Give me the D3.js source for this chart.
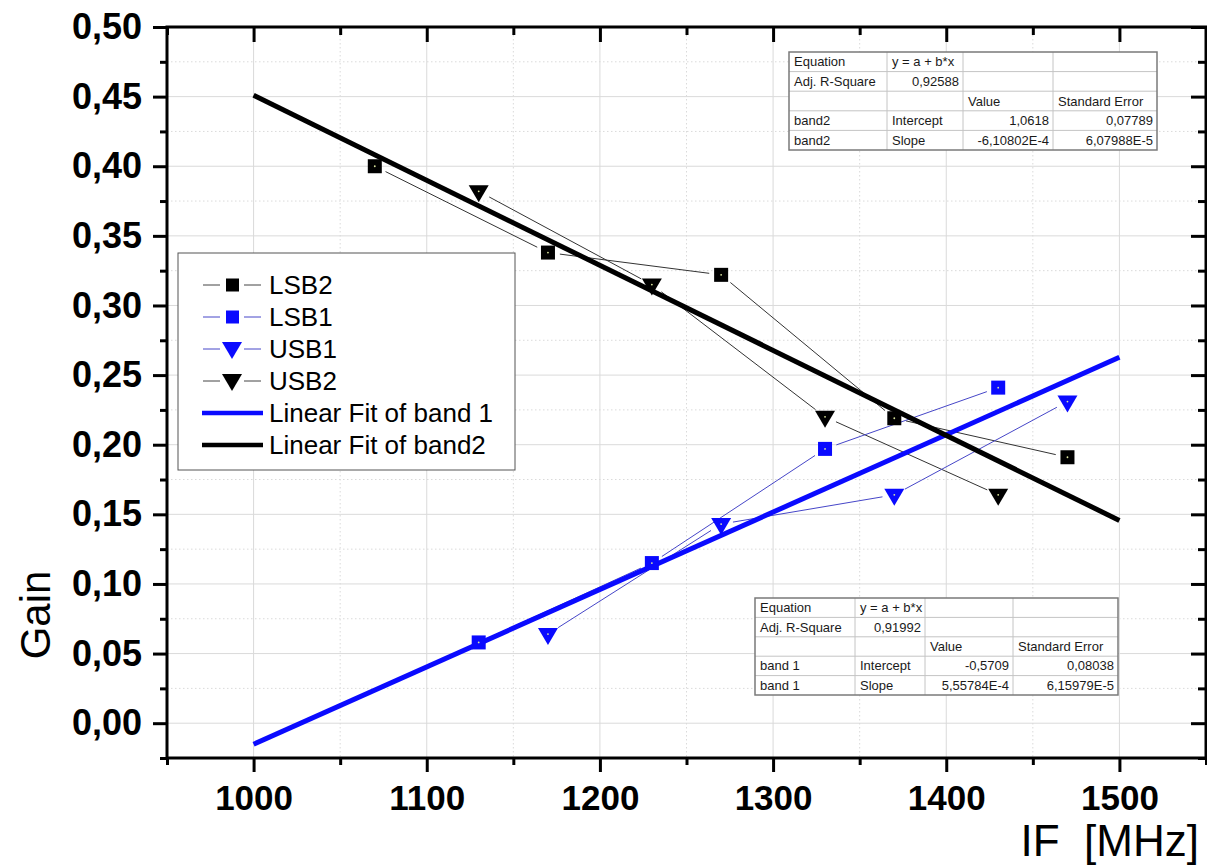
<!doctype html>
<html>
<head>
<meta charset="utf-8">
<script src="https://d3js.org/d3.v7.min.js"></script>
<style>
    body { margin: 0; background: #fff; }
    svg { display: block; font-family: "Liberation Sans", Arial, sans-serif; }
    .grid-major line { stroke: #dadada; stroke-width: 1; }
    .grid-minor line { stroke: #dadada; stroke-width: 1; stroke-dasharray: 1.5,2.5; }
    .tick text { font-weight: bold; fill: #000; }
    .tbl text { font-size: 13px; fill: #1a1a1a; }
</style>
</head>
<body>
<svg width="1207" height="865"></svg>
<script>

// values
var lsb2X = [1070, 1170, 1270, 1370, 1470],
    lsb2Y = [0.400, 0.338, 0.322, 0.219, 0.191];
var usb2X = [1130, 1230, 1330, 1430],
    usb2Y = [0.382, 0.315, 0.220, 0.164];
var lsb1X = [1130, 1230, 1330, 1430],
    lsb1Y = [0.058, 0.115, 0.197, 0.241];
var usb1X = [1170, 1270, 1370, 1470],
    usb1Y = [0.064, 0.143, 0.164, 0.231];

// linear fits, parameters as printed in the tables
var fitNames = ["Linear Fit of band 1", "Linear Fit of band2"];
var fitIntercept = [-0.5709, 1.0618];
var fitSlope = [5.55784e-4, -6.10802e-4];
var fitRange = [1000, 1500];

var xTicks = [1000, 1100, 1200, 1300, 1400, 1500];
var yTicks = [0, 0.05, 0.10, 0.15, 0.20, 0.25, 0.30, 0.35, 0.40, 0.45, 0.50];
var yTickLabels = ["0,00", "0,05", "0,10", "0,15", "0,20", "0,25", "0,30", "0,35", "0,40", "0,45", "0,50"];

var band2Table = [
    ["Equation", "y = a + b*x", "", ""],
    ["Adj. R-Square", "0,92588", "", ""],
    ["", "", "Value", "Standard Error"],
    ["band2", "Intercept", "1,0618", "0,07789"],
    ["band2", "Slope", "-6,10802E-4", "6,07988E-5"]
];
var band1Table = [
    ["Equation", "y = a + b*x", "", ""],
    ["Adj. R-Square", "0,91992", "", ""],
    ["", "", "Value", "Standard Error"],
    ["band 1", "Intercept", "-0,5709", "0,08038"],
    ["band 1", "Slope", "5,55784E-4", "6,15979E-5"]
];

var blue = "#0a0aff";

var svg = d3.select("svg");

var x = d3.scaleLinear().domain([950, 1550]).range([167, 1206]),
    y = d3.scaleLinear().domain([-0.025, 0.50]).range([758, 27]);

var xMinor = d3.range(950, 1551, 50).filter(function(v) { return v % 100 != 0; });
var yMinor = d3.range(-0.025, 0.5, 0.05);

// grid
svg.append("g").attr("class", "grid-minor")
   .selectAll("line").data(xMinor).enter().append("line")
   .attr("x1", x).attr("x2", x).attr("y1", y(0.5)).attr("y2", y(-0.025));
svg.append("g").attr("class", "grid-minor")
   .selectAll("line").data(yMinor).enter().append("line")
   .attr("x1", x(950)).attr("x2", x(1550)).attr("y1", y).attr("y2", y);
svg.append("g").attr("class", "grid-major")
   .selectAll("line").data(xTicks).enter().append("line")
   .attr("x1", x).attr("x2", x).attr("y1", y(0.5)).attr("y2", y(-0.025));
svg.append("g").attr("class", "grid-major")
   .selectAll("line").data(yTicks).enter().append("line")
   .attr("x1", x(950)).attr("x2", x(1550)).attr("y1", y).attr("y2", y);

// axes
function styleAxis(g) {
    g.select(".domain").remove();
    g.selectAll(".tick line").attr("stroke", "#000").attr("stroke-width", 3);
}

svg.append("g").attr("transform", "translate(0," + y(-0.025) + ")")
   .call(d3.axisBottom(x).tickValues(xMinor).tickSize(7).tickFormat(""))
   .call(styleAxis);
svg.append("g").attr("transform", "translate(0," + y(-0.025) + ")")
   .call(d3.axisBottom(x).tickValues(xTicks).tickSize(14).tickPadding(13).tickFormat(d3.format("d")))
   .call(styleAxis)
   .selectAll("text").style("font-size", "35px");

svg.append("g").attr("transform", "translate(" + x(950) + ",0)")
   .call(d3.axisLeft(y).tickValues(yMinor).tickSize(7).tickFormat(""))
   .call(styleAxis);
svg.append("g").attr("transform", "translate(" + x(950) + ",0)")
   .call(d3.axisLeft(y).tickValues(yTicks).tickSize(14).tickPadding(11)
         .tickFormat(function(d, i) { return yTickLabels[i]; }))
   .call(styleAxis)
   .selectAll("text").style("font-size", "36px");

// top and right: inward ticks
svg.append("g").attr("transform", "translate(0," + y(0.5) + ")")
   .call(d3.axisBottom(x).tickValues(xMinor).tickSize(8).tickFormat(""))
   .call(styleAxis);
svg.append("g").attr("transform", "translate(0," + y(0.5) + ")")
   .call(d3.axisBottom(x).tickValues(xTicks).tickSize(15).tickFormat(""))
   .call(styleAxis);
svg.append("g").attr("transform", "translate(" + x(1550) + ",0)")
   .call(d3.axisLeft(y).tickValues(yMinor).tickSize(8).tickFormat(""))
   .call(styleAxis);
svg.append("g").attr("transform", "translate(" + x(1550) + ",0)")
   .call(d3.axisLeft(y).tickValues(yTicks).tickSize(15).tickFormat(""))
   .call(styleAxis);

svg.append("rect")
   .attr("x", x(950)).attr("y", y(0.5))
   .attr("width", x(1550) - x(950)).attr("height", y(-0.025) - y(0.5))
   .attr("fill", "none").attr("stroke", "#000").attr("stroke-width", 3);

// axis titles
svg.append("text")
   .attr("transform", "translate(50,615) rotate(-90)")
   .attr("text-anchor", "middle")
   .style("font-size", "42px")
   .text("Gain");
svg.append("text")
   .attr("x", 1199).attr("y", 856)
   .attr("text-anchor", "end")
   .style("font-size", "44px")
   .text("IF\u00a0\u00a0[MHz]");

// connecting lines, with small gaps at the symbols
function pts(xs, ys) {
    return xs.map(function(v, i) { return [x(v), y(ys[i])]; });
}
function connect(p, color) {
    var gap = 12;
    for (var i = 0; i < p.length - 1; i++) {
        var dx = p[i + 1][0] - p[i][0], dy = p[i + 1][1] - p[i][1];
        var len = Math.sqrt(dx * dx + dy * dy);
        if (len <= 2 * gap) continue;
        var ux = dx / len, uy = dy / len;
        svg.append("line")
           .attr("x1", p[i][0] + ux * gap).attr("y1", p[i][1] + uy * gap)
           .attr("x2", p[i + 1][0] - ux * gap).attr("y2", p[i + 1][1] - uy * gap)
           .attr("stroke", color).attr("stroke-width", 1);
    }
}

var pLsb2 = pts(lsb2X, lsb2Y), pUsb2 = pts(usb2X, usb2Y),
    pLsb1 = pts(lsb1X, lsb1Y), pUsb1 = pts(usb1X, usb1Y);

connect(pLsb2, "#333");
connect(pUsb2, "#333");
connect(pLsb1, "#4646c8");
connect(pUsb1, "#4646c8");

// fit lines
var fitColors = [blue, "#000"];
fitNames.forEach(function(name, i) {
    var line = d3.line()
        .x(function(d) { return x(d); })
        .y(function(d) { return y(fitIntercept[i] + fitSlope[i] * d); });
    svg.append("path")
       .datum(fitRange)
       .attr("d", line)
       .attr("fill", "none")
       .attr("stroke", fitColors[i])
       .attr("stroke-width", 5);
});

// symbols
var triPath = "M-10,-6L10,-6L0,11Z";
function squares(p, color) {
    var g = svg.append("g");
    g.selectAll("rect").data(p).enter().append("rect")
     .attr("x", function(d) { return d[0] - 7; })
     .attr("y", function(d) { return d[1] - 7; })
     .attr("width", 14).attr("height", 14)
     .attr("fill", color);
    g.selectAll("circle").data(p).enter().append("circle")
     .attr("cx", function(d) { return d[0]; }).attr("cy", function(d) { return d[1]; })
     .attr("r", 0.9).attr("fill", "#dde8a0");
}
function triangles(p, color) {
    var g = svg.append("g");
    g.selectAll("path").data(p).enter().append("path")
     .attr("transform", function(d) { return "translate(" + d[0] + "," + d[1] + ")"; })
     .attr("d", triPath)
     .attr("fill", color);
    g.selectAll("circle").data(p).enter().append("circle")
     .attr("cx", function(d) { return d[0]; }).attr("cy", function(d) { return d[1]; })
     .attr("r", 0.9).attr("fill", "#dde8a0");
}
squares(pLsb2, "#000");
triangles(pUsb2, "#000");
squares(pLsb1, blue);
triangles(pUsb1, blue);

// legend
var legendItems = [
    { name: "LSB2", color: "#000", line: "#444", sym: "square" },
    { name: "LSB1", color: blue, line: "#4646c8", sym: "square" },
    { name: "USB1", color: blue, line: "#4646c8", sym: "tri" },
    { name: "USB2", color: "#000", line: "#444", sym: "tri" },
    { name: fitNames[0], color: blue, sym: "fit" },
    { name: fitNames[1], color: "#000", sym: "fit" }
];

var lg = svg.append("g");
lg.append("rect")
  .attr("x", 178).attr("y", 253).attr("width", 337).attr("height", 217)
  .attr("fill", "#fff").attr("stroke", "#555").attr("stroke-width", 1);

legendItems.forEach(function(d, i) {
    var cy = 285 + i * 32;
    var row = lg.append("g").attr("transform", "translate(0," + cy + ")");
    if (d.sym == "fit") {
        row.append("line").attr("x1", 202).attr("x2", 263).attr("y1", 0).attr("y2", 0)
           .attr("stroke", d.color).attr("stroke-width", 4.5);
    } else {
        row.append("line").attr("x1", 203).attr("x2", 220).attr("y1", 0).attr("y2", 0)
           .attr("stroke", d.line).attr("stroke-width", 1);
        row.append("line").attr("x1", 244).attr("x2", 261).attr("y1", 0).attr("y2", 0)
           .attr("stroke", d.line).attr("stroke-width", 1);
        if (d.sym == "square") {
            row.append("rect").attr("x", 226).attr("y", -6.5).attr("width", 13).attr("height", 13)
               .attr("fill", d.color);
        } else {
            row.append("path").attr("transform", "translate(232,-1)").attr("d", triPath)
               .attr("fill", d.color);
        }
    }
    row.append("text").attr("x", 269).attr("y", 9)
       .style("font-size", "26px").text(d.name);
});

// fit result tables
function drawTable(rows, left, top, cols, rowH) {
    var g = svg.append("g").attr("class", "tbl");
    var w = cols[cols.length - 1], h = rowH * rows.length;
    g.append("rect").attr("x", left).attr("y", top).attr("width", w).attr("height", h)
     .attr("fill", "#fff");
    for (var r = 1; r < rows.length; r++) {
        g.append("line").attr("x1", left).attr("x2", left + w)
         .attr("y1", top + r * rowH).attr("y2", top + r * rowH)
         .attr("stroke", "#c4c4c4").attr("stroke-width", 1);
    }
    for (var c = 1; c < cols.length - 1; c++) {
        g.append("line").attr("x1", left + cols[c]).attr("x2", left + cols[c])
         .attr("y1", top).attr("y2", top + h)
         .attr("stroke", "#c4c4c4").attr("stroke-width", 1);
    }
    g.append("rect").attr("x", left).attr("y", top).attr("width", w).attr("height", h)
     .attr("fill", "none").attr("stroke", "#7a7a7a").attr("stroke-width", 1.5);
    rows.forEach(function(row, r) {
        row.forEach(function(cell, c) {
            if (!cell) return;
            var numeric = /^-?[0-9,]+(E-?[0-9]+)?$/.test(cell);
            g.append("text")
             .attr("x", numeric ? left + cols[c + 1] - 4 : left + cols[c] + 5)
             .attr("y", top + r * rowH + rowH / 2 + 4.5)
             .attr("text-anchor", numeric ? "end" : "start")
             .text(cell);
        });
    });
}
drawTable(band2Table, 789, 52, [0, 98, 174, 264, 368], 19.6);
drawTable(band1Table, 755, 598, [0, 100, 170, 258, 363], 19.4);

</script>
</body>
</html>
